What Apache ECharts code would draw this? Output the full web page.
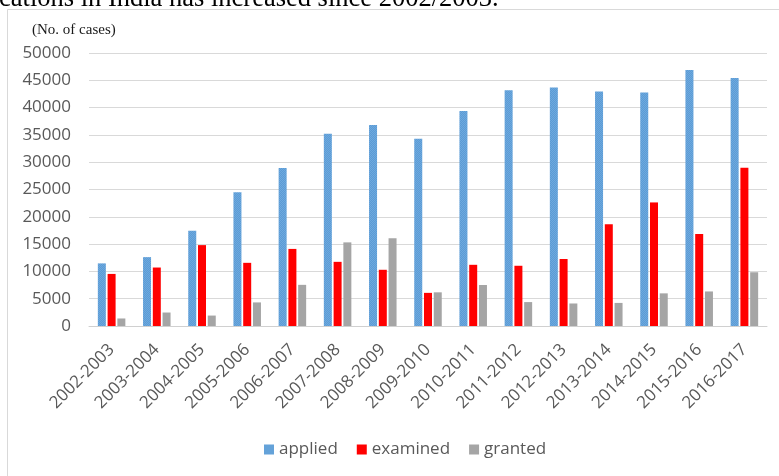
<!DOCTYPE html>
<html>
<head>
<meta charset="utf-8">
<script src="https://cdn.jsdelivr.net/npm/echarts@6/dist/echarts.min.js"></script>
<style>
  html, body { margin: 0; padding: 0; background: #fff; }
  #chart { width: 779px; height: 476px; }
</style>
</head>
<body>
<div id="chart"></div>
<script>
// Patent applications in India, by financial year
const years = ['2002-2003', '2003-2004', '2004-2005', '2005-2006', '2006-2007', '2007-2008',
  '2008-2009', '2009-2010', '2010-2011', '2011-2012', '2012-2013', '2013-2014',
  '2014-2015', '2015-2016', '2016-2017'];
const applied = [11466, 12613, 17466, 24505, 28940, 35218, 36812, 34287, 39400, 43197, 43674, 42951, 42763, 46904, 45444];
const examined = [9538, 10709, 14813, 11569, 14119, 11751, 10296, 6069, 11208, 11031, 12268, 18615, 22631, 16851, 28967];
const granted = [1379, 2469, 1911, 4320, 7539, 15316, 16061, 6168, 7509, 4381, 4126, 4227, 5978, 6326, 9847];
const yTicks = [0, 5000, 10000, 15000, 20000, 25000, 30000, 35000, 40000, 45000, 50000];

// Fine dotted texture used for the "applied" bars
function dotPattern() {
  const c = document.createElement('canvas');
  c.width = 2; c.height = 2;
  const g = c.getContext('2d');
  g.fillStyle = '#5b9bd5';
  g.fillRect(0, 0, 2, 2);
  g.fillStyle = '#6ea9de';
  g.fillRect(0, 0, 1, 1);
  g.fillRect(1, 1, 1, 1);
  return c;
}

const chart = echarts.init(document.getElementById('chart'), null, { renderer: 'canvas' });
const font = '"Open Sans", "Liberation Sans", sans-serif';
const labelColor = '#595959';

chart.setOption({
  animation: false,
  backgroundColor: '#fff',
  grid: { left: 89, right: 12, top: 53, bottom: 150, containLabel: false },
  legend: {
    bottom: 13,
    left: 259,
    itemWidth: 10,
    itemHeight: 10,
    itemGap: 19,
    icon: 'rect',
    textStyle: { color: labelColor, fontSize: 17, fontFamily: font },
    data: ['applied', 'examined', 'granted']
  },
  xAxis: {
    type: 'category',
    data: years,
    axisLine: { show: true, lineStyle: { color: '#d0d0d0', width: 1 } },
    axisTick: { show: false },
    axisLabel: { rotate: 45, margin: 21, color: labelColor, fontSize: 17, fontFamily: font, interval: 0 }
  },
  yAxis: {
    type: 'value',
    min: yTicks[0],
    max: yTicks[yTicks.length - 1],
    interval: yTicks[1] - yTicks[0],
    axisLine: { show: false },
    axisTick: { show: false },
    splitLine: { lineStyle: { color: '#d9d9d9', width: 1 } },
    axisLabel: { margin: 18, color: labelColor, fontSize: 17, fontFamily: font,
      formatter: v => String(v) }
  },
  series: [
    { name: 'applied', type: 'bar', data: applied, barWidth: 8, barGap: '22%',
      itemStyle: { color: { image: dotPattern(), repeat: 'repeat' } } },
    { name: 'examined', type: 'bar', data: examined, barWidth: 8, barGap: '22%',
      itemStyle: { color: '#ff0000' } },
    { name: 'granted', type: 'bar', data: granted, barWidth: 8, barGap: '22%',
      itemStyle: { color: '#a5a5a5' } }
  ],
  graphic: [
    // running text above the chart frame
    { type: 'text', left: -1, top: -14, silent: true,
      style: { text: 'cations in India has increased since 2002/2003.', fill: '#000',
        font: '26.5px "Liberation Serif", "DejaVu Serif", serif' } },
    // chart frame
    { type: 'line', silent: true, shape: { x1: 7.5, y1: 9.5, x2: 779, y2: 9.5 },
      style: { stroke: '#d9d9d9', lineWidth: 1 } },
    { type: 'line', silent: true, shape: { x1: 7.5, y1: 9.5, x2: 7.5, y2: 476 },
      style: { stroke: '#d9d9d9', lineWidth: 1 } },
    // unit caption
    { type: 'text', left: 32, top: 23, silent: true,
      style: { text: '(No. of cases)', fill: '#1a1a1a',
        font: '15px "Liberation Serif", "DejaVu Serif", serif' } }
  ]
});
</script>
</body>
</html>
